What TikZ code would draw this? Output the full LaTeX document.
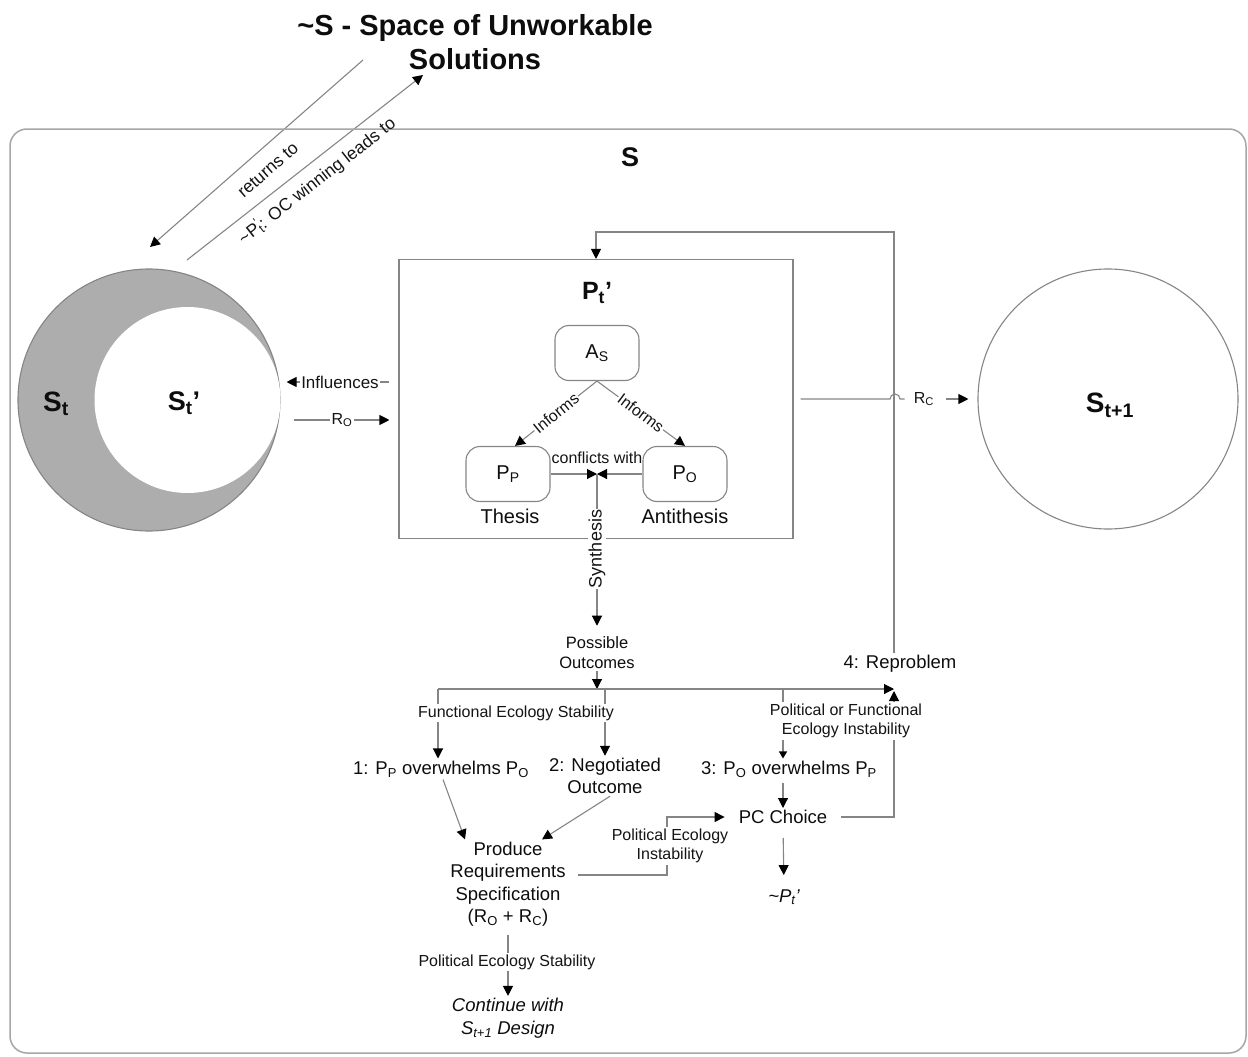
\documentclass[tikz,border=0pt]{standalone}
\usepackage{fontspec}
\setmainfont{Liberation Sans}
\usetikzlibrary{arrows.meta,calc}
\pgfdeclarelayer{bg}
\pgfsetlayers{bg,main}
\begin{document}
\begin{tikzpicture}[x=1pt,y=-1pt,
  ln/.style={draw=black!48, line width=1.1pt},
  arr/.style={ln, -{Triangle[length=10pt,width=10pt,color=black]}},
  sarr/.style={ln, -{Triangle[length=7pt,width=8pt,color=black]}},
  lbl/.style={font=\fontsize{16}{19.5}\selectfont, text=black!92, fill=white, inner sep=2pt, align=center},
  txt/.style={font=\fontsize{18.5}{22.5}\selectfont, text=black!95, align=center, inner sep=2pt},
  itxt/.style={txt, font=\itshape\fontsize{18.5}{22.5}\selectfont},
  rbox/.style={draw=black!48, line width=1.1pt, rounded corners=14pt, minimum width=84pt, minimum height=55pt, font=\fontsize{20}{24}\selectfont, text=black!95},
  circ/.style={circle, draw=black!48, line width=1.1pt, inner sep=0pt},
  bigb/.style={font=\bfseries\fontsize{27}{30}\selectfont, text=black!95}
]
\useasboundingbox (0,0) rectangle (1248,1057);

% title and frame
\node[font=\bfseries\fontsize{29}{34}\selectfont, align=center, text=black!95] (title) at (475,42) {\textasciitilde S - Space of Unworkable\\Solutions};
\draw[draw=black!35, line width=1.5pt, rounded corners=17pt] (10,129) rectangle (1246,1053);
\node[bigb] (Slbl) at (630,157) {S};

% circles
\node[circ, minimum size=262pt, fill=black!32] (St) at (149,400) {};
\node[circle, inner sep=0pt, minimum size=186pt, fill=white] (Stp) at (187.5,400) {};
\node[bigb, font=\bfseries\fontsize{28}{30}\selectfont] (Stlbl) at (56,404) {S\textsubscript{t}};
\node[bigb] (Stplbl) at (184,403) {S\textsubscript{t}’};
\node[circ, minimum size=260pt] (St1) at (1108,399) {};
\node[bigb, font=\bfseries\fontsize{28}{32}\selectfont] (St1lbl) at (1110,405) {S\textsubscript{t+1}};

% problem box
\node[draw=black!48, line width=1.1pt, minimum width=394pt, minimum height=279pt] (Pbox) at (596,399) {};
\node[bigb, font=\bfseries\fontsize{25}{30}\selectfont] (Ptlbl) at (597,293) {P\textsubscript{t}'};
\node[rbox] (As) at (597,353) {A\textsubscript{S}};
\node[rbox] (Pp) at (508,474) {P\textsubscript{P}};
\node[rbox] (Po) at (685,474) {P\textsubscript{O}};
\node[txt, font=\fontsize{20}{24}\selectfont] (thesis) at (510,516) {Thesis};
\node[txt, font=\fontsize{20}{24}\selectfont] (anti) at (685,516) {Antithesis};
\coordinate (cf) at (597,474);
\node[lbl, fill=none] (confl) at (597,458) {conflicts with};
\node[lbl, rotate=39, inner sep=1pt] (inf1) at (556,413) {Informs};
\node[lbl, rotate=-37, inner sep=1pt] (inf2) at (641,413) {Informs};
\node[lbl, rotate=90, font=\fontsize{18}{20}\selectfont, inner sep=1pt] (synth) at (597,549) {Synthesis};

% side labels
\node[lbl, font=\fontsize{17}{20}\selectfont, fill=none, inner sep=1pt] (infl) at (340,382) {Influences};
\node[lbl] (ro) at (342,420) {R\textsubscript{O}};
\node[lbl, fill=none] (rc) at (924,399) {R\textsubscript{C}};

% lower flow
\node[txt, font=\fontsize{16.5}{20}\selectfont] (posout) at (597,653) {Possible\\Outcomes};
\node[lbl] (fes) at (516,713) {Functional Ecology Stability};
\node[lbl] (pfei) at (846,721) {Political or Functional\\Ecology Instability};
\node[txt] (n1) at (441,769) {1: P\textsubscript{P} overwhelms P\textsubscript{O}};
\node[txt] (n2) at (605,776) {2: Negotiated\\Outcome};
\node[txt] (n3) at (789,769) {3: P\textsubscript{O} overwhelms P\textsubscript{P}};
\node[txt] (pc) at (783,817) {PC Choice};
\node[itxt] (npt) at (784,897) {\textasciitilde P\textsubscript{t}'};
\node[txt] (prod) at (508,884) {Produce\\Requirements\\Specification\\(R\textsubscript{O} + R\textsubscript{C})};
\node[lbl] (pei) at (670,846) {Political Ecology\\Instability};
\node[lbl] (pes) at (507,962) {Political Ecology Stability};
\node[itxt] (cont) at (508,1018) {Continue with\\S\textsubscript{t+1} Design};
\node[txt] (rp) at (900,664) {4: Reproblem};

% top-left labels
\node[lbl, fill=none, rotate=41, font=\fontsize{17.5}{20}\selectfont, inner sep=0pt] (retl) at (268,170) {returns to};
\node[lbl, fill=none, rotate=38, font=\fontsize{17.5}{20}\selectfont, inner sep=0pt] (ocl) at (317,181) {\textasciitilde P\rlap{\textsuperscript{'}}\textsubscript{t}: OC winning leads to};

\coordinate (a1s) at (363,60);
\coordinate (a1e) at (150,247);
\coordinate (a2s) at (187,260);
\coordinate (a2e) at (423,75);
\coordinate (hL) at (438,689);
\coordinate (hM) at (605,689);
\coordinate (hQ) at (783,689);
\coordinate (hR) at (894,689);
\coordinate (hR2) at (894,691);

\begin{pgfonlayer}{bg}
\draw[arr] (a1s) -- (a1e);
\draw[arr] (a2s) -- (a2e);
% side connectors
\draw[ln, shorten <=9pt] (Pbox.west |- infl) -- (infl.east);
\draw[arr, shorten >=6pt] (infl.west) -- (St.east |- infl);
\draw[arr, shorten <=13pt, shorten >=9pt] (St.east |- ro) -- (Pbox.west |- ro);
\draw[ln, shorten <=7pt, shorten >=7pt] (Pbox.east) -- (890,399) arc[start angle=180, end angle=360, radius=5] -- (rc.west);
\draw[arr, shorten <=10pt, shorten >=9pt] (rc.east) -- (St1.west);
% inside box
\draw[arr] (As.south) -- ([xshift=7pt]Pp.north);
\draw[arr] (As.south) -- (Po.north);
\draw[arr] (Pp.east) -- (cf);
\draw[arr] (Po.west) -- (cf);
\draw[arr, shorten >=9pt] (cf) -- (posout.north);
% outcomes
\draw[arr] (posout.south) -- (posout.south |- hL);
\draw[arr] (hL) -- (hR);
\draw[arr] (hL) -- (hL |- n1.north);
\draw[arr] (hM) -- (hM |- n2.north);
\draw[sarr] (hQ) -- (hQ |- n3.north);
\draw[arr, shorten <=3pt] (pc.north |- n3.south) -- (pc.north);
\draw[arr, shorten <=12pt, shorten >=12pt] (pc.south) -- (npt.north);
\draw[arr, shorten <=12pt] (pc.east) -- (hR |- pc.east) -- (hR2);
\draw[arr] (rp.north -| hR) -- (hR |- 0,232) -- (Pbox.north |- 0,232) -- (Pbox.north);
\draw[arr] ([xshift=2pt]n1.south) -- ([xshift=-43pt]prod.north);
\draw[arr] ([xshift=5pt]n2.south) -- ([xshift=34pt]prod.north);
\draw[arr, shorten >=12pt] ([xshift=10pt]prod.east |- 0,875) -- (667,875) -- (667,817) -- (pc.west);
\draw[arr, shorten <=6pt] (prod.south) -- (cont.north);
\end{pgfonlayer}
\end{tikzpicture}
\end{document}
